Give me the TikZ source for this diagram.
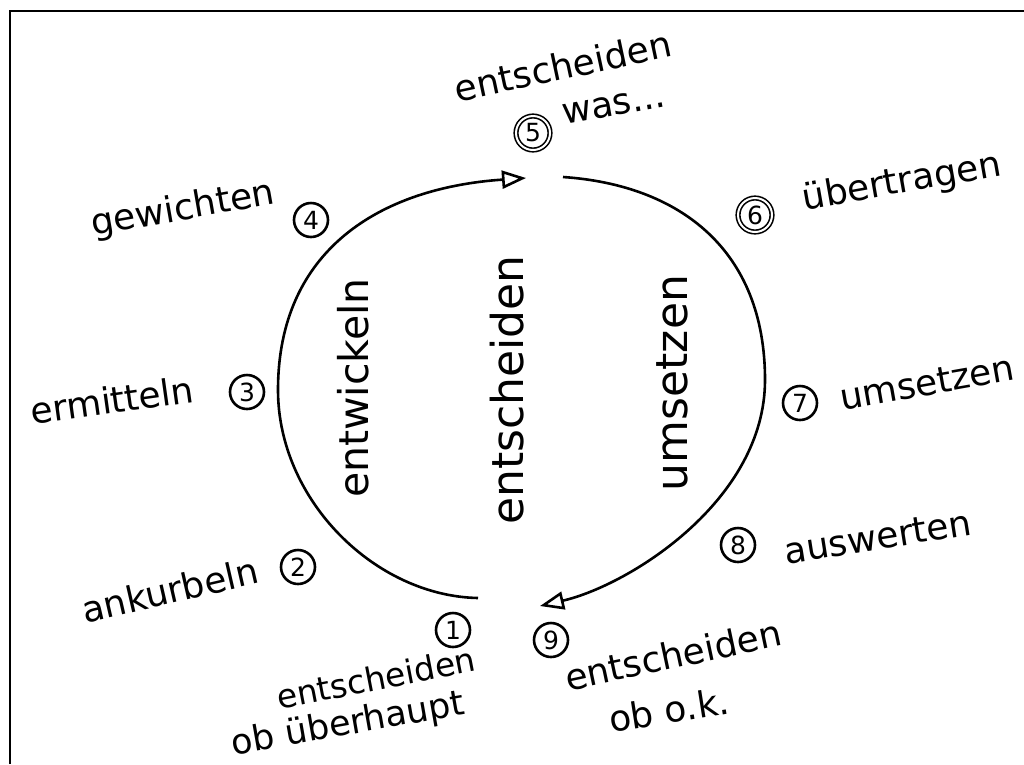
\documentclass[tikz,border=0pt]{standalone}
\usepackage{fontspec}
\setmainfont{DejaVu Sans}
\usetikzlibrary{arrows.meta}
\begin{document}
\begin{tikzpicture}[x=1pt,y=-1pt,
  lbl/.style={font=\fontsize{36}{40}\selectfont, inner sep=0pt},
  vlbl/.style={font=\fontsize{44}{48}\selectfont, inner sep=0pt, rotate=90},
  num/.style={circle, draw, line width=2.6pt, minimum size=34pt, inner sep=0pt, font=\fontsize{25}{27}\selectfont},
  dnum/.style={num, double, double distance=2pt, line width=1.6pt},
  cyc/.style={line width=2.6pt, -{Triangle[open, length=24pt, width=18pt, line width=2.6pt]}},
  frame/.style={line width=2.6pt}]
\path[use as bounding box] (0,0) rectangle (1024,764);
% frame
\draw[frame] (10,764) -- (10,11) -- (1024,11);

% cycle arcs
\coordinate (a1) at (478,598);
\coordinate (aL) at (278,390);
\coordinate (a5) at (526,178);
\coordinate (b5) at (563,177);
\coordinate (bR) at (765,380);
\coordinate (b9) at (540,606);
\draw[cyc] (a1) .. controls (375,596) and (278,500) .. (aL)
               .. controls (278,250) and (380,188) .. (a5);
\draw[cyc] (b5) .. controls (680,185) and (765,250) .. (bR)
               .. controls (765,500) and (630,585) .. (b9);

% inner vertical labels
\node[vlbl, font=\fontsize{41}{44}\selectfont] (entw) at (353,388) {entwickeln};
\node[vlbl] (ents) at (507,390) {entscheiden};
\node[vlbl] (ums) at (672,383) {umsetzen};

% circled numbers
\node[num] (n1) at (453,630) {1};
\node[num] (n2) at (298,567) {2};
\node[num] (n3) at (247,392) {3};
\node[num] (n4) at (311,220) {4};
\node[dnum] (n5) at (533,133) {5};
\node[dnum] (n6) at (755,215) {6};
\node[num] (n7) at (800,403) {7};
\node[num] (n8) at (738,545) {8};
\node[num] (n9) at (551,640) {9};

% outer labels
\node[lbl, rotate=12] (l5a) at (563,66) {entscheiden};
\node[lbl, rotate=10] (l5b) at (614,106) {was...};
\node[lbl, rotate=10] (l6) at (902,183) {übertragen};
\node[lbl, rotate=10] (l4) at (183,210) {gewichten};
\node[lbl, rotate=8] (l3) at (112,400) {ermitteln};
\node[lbl, rotate=10] (l7) at (927,383) {umsetzen};
\node[lbl, rotate=13] (l2) at (170,590) {ankurbeln};
\node[lbl, rotate=9] (l8) at (878,537) {auswerten};
\node[lbl, rotate=11, font=\fontsize{33}{36}\selectfont] (l1a) at (376,678) {entscheiden};
\node[lbl, rotate=10, font=\fontsize{35}{38}\selectfont] (l1b) at (348,725) {ob überhaupt};
\node[lbl, rotate=12] (l9a) at (673,655) {entscheiden};
\node[lbl, rotate=9] (l9b) at (669,710) {ob o.k.};
\end{tikzpicture}
\end{document}
